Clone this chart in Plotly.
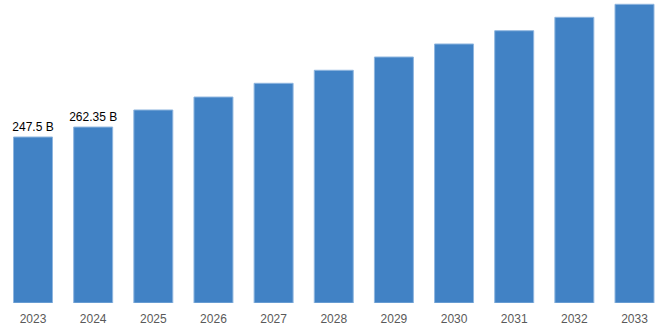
import plotly.graph_objects as go

# Market size by year (billions)
years = ["2023", "2024", "2025", "2026", "2027", "2028",
         "2029", "2030", "2031", "2032", "2033"]
values = [247.5, 262.35, 287.8, 307.1, 327.6, 347.0,
          366.8, 386.2, 406.0, 426.0, 445.4]
labels = ["247.5 B", "262.35 B", "", "", "", "", "", "", "", "", ""]

fig = go.Figure(
    go.Bar(
        x=years,
        y=values,
        text=labels,
        textposition="outside",
        constraintext="none",
        textfont=dict(family="Liberation Sans, Arial, sans-serif", size=12, color="#000000"),
        cliponaxis=False,
        marker=dict(color="#4182c5", line=dict(color="#8fb6df", width=1)),
        hoverinfo="x+y",
    )
)

fig.update_layout(
    width=668,
    height=334,
    margin=dict(l=0, r=0, t=0, b=31),
    paper_bgcolor="white",
    plot_bgcolor="white",
    bargap=0.352,
    showlegend=False,
    xaxis=dict(
        type="category",
        range=[-0.549, 10.557],
        showgrid=False,
        zeroline=False,
        showline=False,
        ticks="outside",
        ticklen=5,
        tickcolor="rgba(0,0,0,0)",
        tickfont=dict(family="Liberation Sans, Arial, sans-serif", size=12, color="#595959"),
    ),
    yaxis=dict(
        range=[0, 451.8],
        visible=False,
        showgrid=False,
        zeroline=False,
    ),
)

fig.write_html("out.html")
